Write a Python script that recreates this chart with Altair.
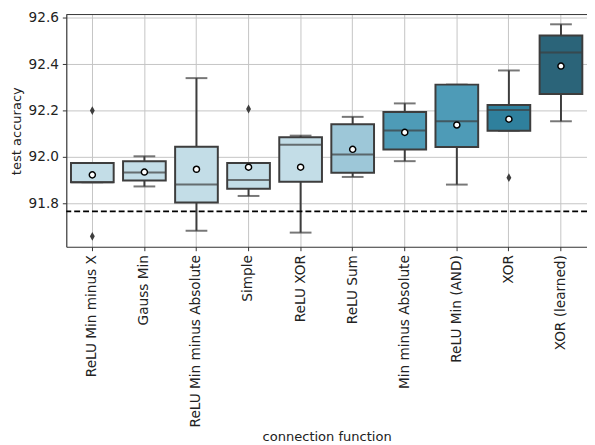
import altair as alt
import pandas as pd

categories = ["ReLU Min minus X", "Gauss Min", "ReLU Min minus Absolute", "Simple",
              "ReLU XOR", "ReLU Sum", "Min minus Absolute", "ReLU Min (AND)",
              "XOR", "XOR (learned)"]
q1 = [91.891, 91.899, 91.804, 91.863, 91.893, 91.932, 92.032, 92.043, 92.113, 92.272]
median = [91.891, 91.933, 91.881, 91.901, 92.053, 92.011, 92.114, 92.154, 92.203, 92.450]
q3 = [91.974, 91.982, 92.044, 91.974, 92.085, 92.141, 92.194, 92.312, 92.224, 92.524]
whisker_low = [91.891, 91.873, 91.682, 91.832, 91.674, 91.914, 91.982, 91.881, 92.113, 92.154]
whisker_high = [91.974, 92.003, 92.340, 91.974, 92.092, 92.173, 92.231, 92.312, 92.373, 92.572]
means = [91.923, 91.935, 91.947, 91.956, 91.956, 92.033, 92.106, 92.138, 92.163, 92.392]
outlier_cat = ["ReLU Min minus X", "ReLU Min minus X", "Simple", "XOR"]
outlier_val = [92.200, 91.658, 92.207, 91.911]
baseline = [91.766]
colors = ["#c3dde7", "#c3dde7", "#c3dde7", "#c3dde7", "#c3dde7",
          "#9dc7d8", "#4e9bb7", "#4e9bb7", "#2f809d", "#2b6479"]

df = pd.DataFrame({"cat": categories, "q1": q1, "median": median, "q3": q3,
                   "wlo": whisker_low, "whi": whisker_high, "mean": means})
df_out = pd.DataFrame({"cat": outlier_cat, "val": outlier_val})
df_base = pd.DataFrame({"y": baseline})

EDGE = "#3d3d3d"
ydom = [91.613, 92.614]

x = alt.X("cat:N", sort=categories, title="connection function",
          scale=alt.Scale(domain=categories, paddingInner=0, paddingOuter=0),
          axis=alt.Axis(labelAngle=270, labelPadding=4, titlePadding=4))
yscale = alt.Scale(domain=ydom, nice=False, zero=False)
yaxis = alt.Axis(values=[91.8, 92.0, 92.2, 92.4, 92.6], format=".1f", titlePadding=5,
                 labelPadding=4)

base = alt.Chart(df)

whiskers = base.mark_rule(color=EDGE, strokeWidth=2).encode(
    x=x, y=alt.Y("wlo:Q", scale=yscale, axis=yaxis, title="test accuracy"), y2="whi:Q")
caps_lo = base.mark_tick(color=EDGE, size=22, thickness=2).encode(
    x=x, y=alt.Y("wlo:Q", scale=yscale))
caps_hi = base.mark_tick(color=EDGE, size=22, thickness=2).encode(
    x=x, y=alt.Y("whi:Q", scale=yscale))
boxes = base.mark_bar(width=alt.RelativeBandSize(0.82), stroke=EDGE, strokeWidth=2,
                      opacity=1).encode(
    x=x, y=alt.Y("q1:Q", scale=yscale), y2="q3:Q",
    color=alt.Color("cat:N", scale=alt.Scale(domain=categories, range=colors), legend=None))
medians = base.mark_tick(color=EDGE, size=43, thickness=2).encode(
    x=x, y=alt.Y("median:Q", scale=yscale))
mean_pts = base.mark_point(shape="circle", filled=True, fill="white", stroke="black",
                           strokeWidth=1.5, size=38, opacity=1).encode(
    x=x, y=alt.Y("mean:Q", scale=yscale))
outliers = alt.Chart(df_out).mark_point(
    shape="M0,-1L0.55,0L0,1L-0.55,0Z", filled=True, color=EDGE, size=80, opacity=1).encode(
    x=alt.X("cat:N", sort=categories, scale=alt.Scale(domain=categories)),
    y=alt.Y("val:Q", scale=yscale))
dashed = alt.Chart(df_base).mark_rule(color="black", strokeWidth=1.8, strokeDash=[6, 3]).encode(
    y=alt.Y("y:Q", scale=yscale))
top_border = alt.Chart(df_base).mark_rule(color="#333333", strokeWidth=1).encode(
    x=alt.value(0), x2=alt.value(527), y=alt.value(0))

chart = alt.layer(whiskers, caps_lo, caps_hi, boxes, medians, mean_pts, outliers,
                  dashed, top_border).properties(
    width=527, height=235,
    autosize=alt.AutoSizeParams(type="none"),
    padding={"left": 59, "top": 4, "right": 0, "bottom": 198},
).configure_view(stroke=None).configure_axis(
    grid=True, gridColor="#c4c4c4", gridWidth=1, zindex=1,
    domainColor="#333333", domainWidth=1.2, tickColor="#333333", tickSize=4,
    labelFont="DejaVu Sans", labelFontSize=13.8, labelColor="#222222",
    titleFont="DejaVu Sans", titleFontSize=13.2, titleFontWeight="normal", titleColor="#222222",
)

chart.save("out.html", embed_options={"renderer": "svg", "actions": False})
